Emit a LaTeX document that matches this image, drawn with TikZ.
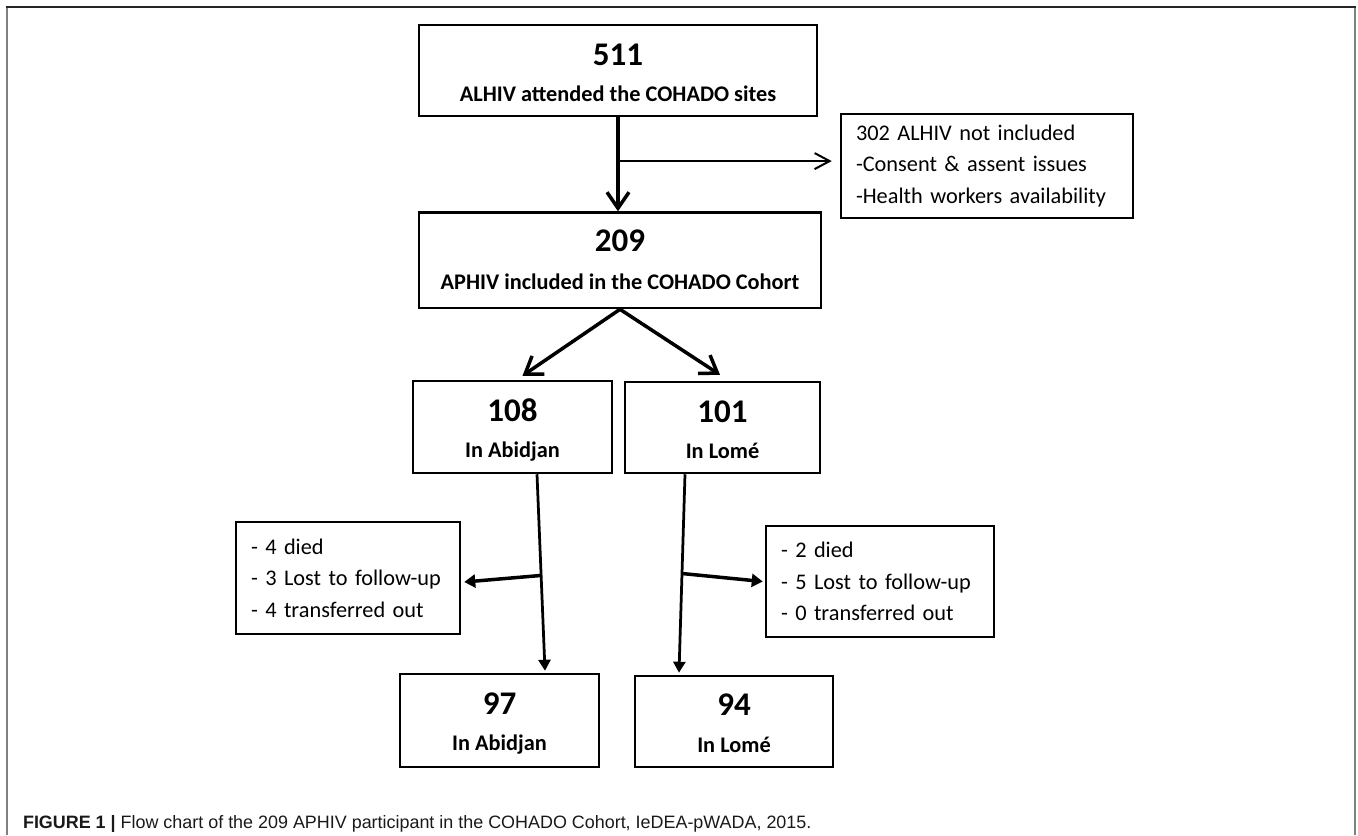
\documentclass[tikz,border=0pt]{standalone}
\usepackage{fontspec}
\setmainfont{Carlito}
\newfontfamily\capfont{Liberation Sans}
\usetikzlibrary{arrows.meta,calc}

\begin{document}
\begin{tikzpicture}[x=0.2mm,y=-0.2mm,
    box/.style={draw,line width=0.5mm,inner sep=0pt},
    num/.style={anchor=base,inner sep=0pt,font=\bfseries\fontsize{18.8pt}{20pt}\selectfont},
    lbl/.style={anchor=base,inner sep=0pt,font=\bfseries\fontsize{12.7pt}{15pt}\selectfont},
    side/.style={draw,line width=0.5mm,inner xsep=3mm,inner ysep=0pt,align=left,
      font=\fontsize{12.7pt}{6.3mm}\selectfont},
    bigarr/.style={line width=0.7mm,-{Straight Barb[length=3.2mm,width=4.4mm]}},
    thinarr/.style={line width=0.4mm,-{Straight Barb[length=3mm,width=3.2mm]}},
    downarr/.style={line width=0.55mm,-{Triangle[length=2.2mm,width=2.4mm]}},
    sidearr/.style={line width=0.7mm,-{Triangle[length=2.2mm,width=2.6mm]}}]
          \useasboundingbox (0,0) rectangle (1358,835);
          \draw[line width=0.5mm,black!50] (7,7) -- (7,835); % frame
          \draw[line width=0.5mm,black!50] (1355,7) -- (1355,835);
          \draw[line width=0.4mm,black!85] (6,7) -- (1356,7);
          % boxes
          \node[box,minimum width=79.6mm,minimum height=18.2mm] (n511) at (618,70.5) {};
          \node[box,minimum width=80.4mm,minimum height=19.1mm] (n209) at (620,260.3) {};
          \node[box,minimum width=39.8mm,minimum height=18.4mm] (n108) at (512.5,427) {};
          \node[box,minimum width=39mm,minimum height=18.2mm] (n101) at (722.5,427.5) {};
          \node[box,minimum width=39.8mm,minimum height=18.6mm] (n97) at (499.5,720.5) {};
          \node[box,minimum width=39.6mm,minimum height=18.2mm] (n94) at (734,721.5) {};
          \node[side,text width=52.4mm,minimum height=20.8mm] (n302) at (987,166)
            {302 ALHIV not included\\-Consent \& assent issues\\-Health workers availability};
          \node[side,text width=38.8mm,minimum height=22.4mm] (lossA) at (348,578)
            {- 4 died\\- 3 Lost to follow-up\\- 4 transferred out};
          \node[side,text width=39.6mm,minimum height=22.2mm] (lossL) at (880,581.5)
            {- 2 died\\- 5 Lost to follow-up\\- 0 transferred out};
          % counts and labels
          \node[num] (t511) at ($(n511.north)+(0,41.5)$) {511};
          \node[lbl] (l511) at ($(n511.north)+(0,78)$) {ALHIV attended the COHADO sites};
          \node[num] (t209) at ($(n209.north)+(0,40.5)$) {209};
          \node[lbl] (l209) at ($(n209.north)+(0,78.5)$) {APHIV included in the COHADO Cohort};
          \node[num] (t108) at ($(n108.north)+(0,42)$) {108};
          \node[lbl] (l108) at ($(n108.north)+(0,78)$) {In Abidjan};
          \node[num] (t101) at ($(n101.north)+(0,41.5)$) {101};
          \node[lbl] (l101) at ($(n101.north)+(0,77.5)$) {In Lomé};
          \node[num] (t97) at ($(n97.north)+(0,41.5)$) {97};
          \node[lbl] (l97) at ($(n97.north)+(0,78)$) {In Abidjan};
          \node[num] (t94) at ($(n94.north)+(0,41)$) {94};
          \node[lbl] (l94) at ($(n94.north)+(0,77.5)$) {In Lomé};
          % arrows
          \draw[bigarr] (n511.south) -- coordinate[pos=0.466] (cut) (n511.south |- n209.north);
          \draw[thinarr,shorten >=1.6mm] (cut) -- (cut -| n302.west);
          \draw[bigarr] (n209.south) -- ([xshift=2mm,yshift=0.8mm]n108.north);
          \draw[bigarr] (n209.south) -- ([xshift=-0.5mm,yshift=1.2mm]n101.north);
          \draw[downarr] ([xshift=4.9mm]n108.south) -- coordinate[pos=0.515] (dropA)
            ([xshift=9.1mm,yshift=0.4mm]n97.north);
          \draw[downarr] ([xshift=-7.5mm]n101.south) -- coordinate[pos=0.5] (dropL)
            ([xshift=-11mm,yshift=0.4mm]n94.north);
          \draw[sidearr] (dropA) -- ([xshift=0.6mm,yshift=-0.8mm]lossA.east);
          \draw[sidearr] (dropL) -- ([xshift=-0.4mm]lossL.west);
          % caption
          \node[anchor=base west,inner sep=0pt,text=black!90,
            font=\capfont\fontsize{10.2pt}{12pt}\selectfont] (caption) at (22.7,828.5)
            {\textbf{FIGURE 1 |} Flow chart of the 209 APHIV participant in the COHADO Cohort, IeDEA-pWADA, 2015.};
        \end{tikzpicture}
\end{document}
